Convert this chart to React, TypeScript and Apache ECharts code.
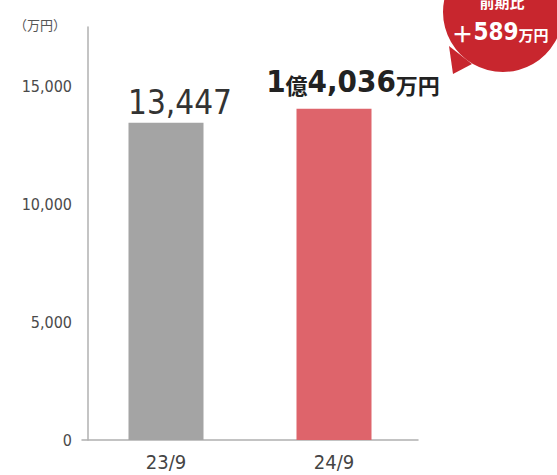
import React, { useEffect, useRef } from "react";
import * as echarts from "echarts";

const categories = ["23/9", "24/9"];
const values = [13447, 14036];
const valueLabels = ["13,447", "1億4,036万円"];
const yTicks = [0, 5000, 10000, 15000];
const unitLabel = "（万円）";
const bubbleTitle = "前期比";
const bubbleDiff = 589;

const COND = '"DejaVu Sans Condensed", "Liberation Sans Narrow", "Noto Sans CJK JP", sans-serif';
const CJK = '"Noto Sans CJK JP", sans-serif';

export default function App() {
  const ref = useRef<HTMLDivElement>(null);
  useEffect(() => {
    if (!ref.current) return;
    const chart = echarts.init(ref.current, null, { renderer: "svg" });
    const fmt = (v: number) => v.toLocaleString("en-US");
    chart.setOption({
      animation: false,
      backgroundColor: "#ffffff",
      grid: { left: 82, right: 139, top: 27, bottom: 35, containLabel: false },
      xAxis: {
        type: "category",
        data: categories,
        axisTick: { show: false },
        axisLine: { show: true, lineStyle: { color: "#b0b0b0", width: 1.5 } },
        axisLabel: { color: "#444", fontSize: 20, fontFamily: COND, margin: 12 },
      },
      yAxis: {
        type: "value",
        min: 0,
        max: 17500,
        interval: 5000,
        offset: -6,
        name: unitLabel,
        nameLocation: "end",
        nameGap: 3,
        nameTextStyle: {
          color: "#555",
          fontSize: 13,
          fontFamily: CJK,
          align: "right",
          verticalAlign: "middle",
          padding: [0, 22, 0, 0],
        },
        axisLine: { show: true, lineStyle: { color: "#b0b0b0", width: 1.5 } },
        axisTick: { show: false },
        splitLine: { show: false },
        axisLabel: {
          color: "#4a4a4a",
          fontSize: 16,
          fontFamily: COND,
          margin: 16,
          formatter: (v: number) => (yTicks.includes(v) ? fmt(v) : ""),
        },
      },
      series: [
        {
          type: "bar",
          barWidth: 75,
          data: values.map((v, i) => ({
            value: v,
            itemStyle: { color: i === 0 ? "#a4a4a4" : "#de646b" },
            label:
              i === 0
                ? {
                    show: true,
                    position: "top",
                    distance: 4,
                    offset: [14, 0],
                    formatter: valueLabels[0],
                    color: "#333",
                    fontSize: 33,
                    fontFamily: COND,
                  }
                : {
                    show: true,
                    position: "top",
                    distance: 12,
                    offset: [19, 0],
                    formatter: "{a|1}{b|億}{a|4,036}{b|万円}",
                    rich: {
                      a: { fontSize: 31, fontWeight: "bold", color: "#222", fontFamily: COND },
                      b: { fontSize: 22, fontWeight: "bold", color: "#222", fontFamily: CJK, padding: [6, 0, 0, 0] },
                    },
                  },
          })),
        },
      ],
      graphic: [
        {
          type: "polygon",
          shape: { points: [[449, 46], [472, 64], [453, 74]] },
          style: { fill: "#c8262e" },
        },
        {
          type: "circle",
          shape: { cx: 503, cy: 12, r: 60 },
          style: { fill: "#c8262e" },
        },
        {
          type: "text",
          x: 502,
          y: 1,
          style: {
            text: bubbleTitle,
            fill: "#fff",
            fontSize: 15,
            fontWeight: "bold",
            fontFamily: CJK,
            align: "center",
            verticalAlign: "middle",
          },
        },
        {
          type: "text",
          x: 500,
          y: 32,
          style: {
            text: "{p|＋}{n|" + bubbleDiff + "}{u|万円}",
            align: "center",
            verticalAlign: "middle",
            rich: {
              p: { fill: "#fff", fontSize: 22, fontWeight: "bold", fontFamily: CJK },
              n: { fill: "#fff", fontSize: 24, fontWeight: "bold", fontFamily: COND },
              u: { fill: "#fff", fontSize: 15, fontWeight: "bold", fontFamily: CJK, padding: [5, 0, 0, 0] },
            },
          },
        },
      ],
    });
    return () => chart.dispose();
  }, []);
  return <div ref={ref} style={{ width: 557, height: 475, position: "absolute", left: 0, top: 0 }} />;
}
